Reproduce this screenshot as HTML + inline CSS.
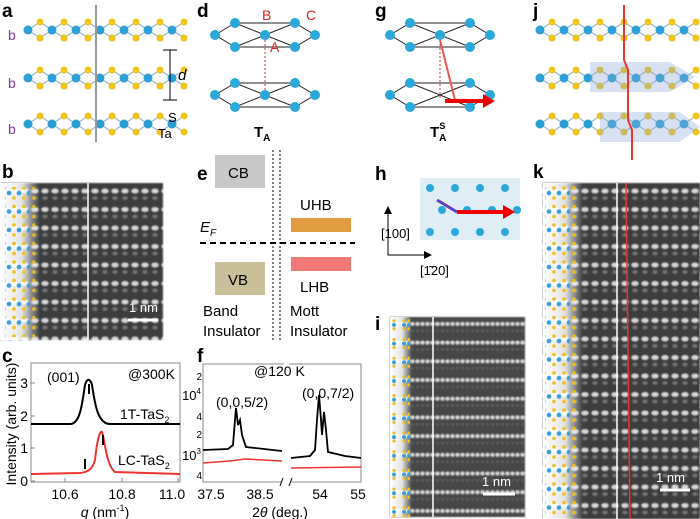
<!DOCTYPE html><html><head><style>body{margin:0;background:#fff}svg{display:block;font-family:"Liberation Sans",sans-serif}</style></head><body>
<svg width="700" height="519" viewBox="0 0 700 519" xmlns="http://www.w3.org/2000/svg">
<defs>
<filter id="bl"><feGaussianBlur stdDeviation="0.9"/></filter>
<pattern id="dots" width="10" height="18.5" patternUnits="userSpaceOnUse"><rect width="10" height="18.5" fill="#3c3c3c"/><ellipse cx="5" cy="6" rx="3.5" ry="2.3" fill="#d8d8d8"/><ellipse cx="5" cy="13" rx="2.5" ry="1.8" fill="#777"/></pattern>
<pattern id="dots2" width="5" height="18.7" patternUnits="userSpaceOnUse"><rect width="5" height="18.7" fill="#464646"/><ellipse cx="2.5" cy="6" rx="2" ry="1.8" fill="#ddd"/><circle cx="2.5" cy="13" r="1.2" fill="#666"/></pattern>
<linearGradient id="fade" x1="0" x2="1"><stop offset="0" stop-color="#fff"/><stop offset="0.55" stop-color="#fff" stop-opacity="0.85"/><stop offset="1" stop-color="#fff" stop-opacity="0"/></linearGradient>
<pattern id="atoms" width="30" height="18.5" patternUnits="userSpaceOnUse"><g fill="#e8c020"><circle cx="4" cy="3" r="1.8"/><circle cx="14" cy="3" r="1.8"/><circle cx="24" cy="3" r="1.8"/><circle cx="4" cy="13" r="1.8"/><circle cx="14" cy="13" r="1.8"/><circle cx="24" cy="13" r="1.8"/></g><g fill="#3a9fd8"><circle cx="9" cy="8" r="2.3"/><circle cx="19" cy="8" r="2.3"/><circle cx="29" cy="8" r="2.3"/></g></pattern>
<pattern id="atoms2" width="20" height="18.7" patternUnits="userSpaceOnUse"><g fill="#e8c020"><circle cx="4" cy="3" r="1.6"/><circle cx="9" cy="3" r="1.6"/><circle cx="14" cy="3" r="1.6"/><circle cx="4" cy="11" r="1.6"/><circle cx="9" cy="11" r="1.6"/><circle cx="14" cy="11" r="1.6"/></g><g fill="#3a9fd8"><circle cx="4" cy="7" r="2"/><circle cx="9" cy="7" r="2"/><circle cx="14" cy="7" r="2"/></g></pattern>
<g id="chain"><path d="M0 0 l12 -8 l12 8 l12 -8 l12 8 l12 -8 l12 8 l12 -8 l12 8 l12 -8 l12 8 l12 -8 l12 8 l12 -8" stroke="#8ab" fill="none"/><path d="M0 0 l12 8 l12 -8 l12 8 l12 -8 l12 8 l12 -8 l12 8 l12 -8 l12 8 l12 -8 l12 8 l12 -8 l12 8" stroke="#8ab" fill="none"/>
<g fill="#2a9fd6"><circle cx="0" cy="0" r="4.5"/><circle cx="24" cy="0" r="4.5"/><circle cx="48" cy="0" r="4.5"/><circle cx="72" cy="0" r="4.5"/><circle cx="96" cy="0" r="4.5"/><circle cx="120" cy="0" r="4.5"/><circle cx="144" cy="0" r="4.5"/></g>
<g fill="#f0c419"><circle cx="12" cy="-8" r="3.5"/><circle cx="36" cy="-8" r="3.5"/><circle cx="60" cy="-8" r="3.5"/><circle cx="84" cy="-8" r="3.5"/><circle cx="108" cy="-8" r="3.5"/><circle cx="132" cy="-8" r="3.5"/><circle cx="156" cy="-8" r="3.5"/><circle cx="12" cy="8" r="3.5"/><circle cx="36" cy="8" r="3.5"/><circle cx="60" cy="8" r="3.5"/><circle cx="84" cy="8" r="3.5"/><circle cx="108" cy="8" r="3.5"/><circle cx="132" cy="8" r="3.5"/><circle cx="156" cy="8" r="3.5"/></g></g>
</defs>
<g font-weight="bold" font-size="19" fill="#000"><text x="2" y="17">a</text><text x="2" y="178">b</text><text x="2" y="362">c</text><text x="197" y="17">d</text><text x="197" y="180">e</text><text x="197" y="362">f</text><text x="375" y="17">g</text><text x="375" y="180">h</text><text x="375" y="330">i</text><text x="533" y="17">j</text><text x="533" y="178">k</text></g>
<!-- a -->
<use href="#chain" x="28" y="30"/><use href="#chain" x="28" y="78"/><use href="#chain" x="28" y="124"/>
<line x1="96" y1="5" x2="96" y2="142" stroke="#999" stroke-width="2"/>
<g fill="#7a3fa0" font-size="14"><text x="8" y="40">b</text><text x="8" y="88">b</text><text x="8" y="134">b</text></g>
<path d="M163 50 h14 M163 100 h14 M170 50 v50" stroke="#000"/><text x="178" y="80" font-style="italic" font-size="15">d</text>
<text x="168" y="122" font-size="13">S</text><text x="158" y="138" font-size="13">Ta</text>
<!-- b -->
<rect x="0" y="183" width="163" height="157" fill="url(#dots)" filter="url(#bl)"/><rect x="0" y="183" width="40" height="157" fill="url(#fade)"/><rect x="5" y="187" width="30" height="150" fill="url(#atoms)"/>
<line x1="88" y1="183" x2="88" y2="340" stroke="#fff" stroke-width="1.5"/>
<line x1="128" y1="320" x2="158" y2="320" stroke="#fff" stroke-width="3"/><text x="129" y="312" fill="#fff" font-size="13">1 nm</text>
<!-- d -->
<g stroke="#222" fill="none"><path d="M215 35 l20 -12 h60 l20 12 l-20 12 h-60z M235 23 l30 12 l30 -12 M235 47 l30 -12 l30 12"/><path d="M215 95 l20 -12 h60 l20 12 l-20 12 h-60z M235 83 l30 12 l30 -12 M235 107 l30 -12 l30 12"/></g>
<g fill="#2aa8d8"><circle cx="215" cy="35" r="5"/><circle cx="235" cy="23" r="5"/><circle cx="295" cy="23" r="5"/><circle cx="315" cy="35" r="5"/><circle cx="235" cy="47" r="5"/><circle cx="295" cy="47" r="5"/><circle cx="265" cy="35" r="5"/><circle cx="215" cy="95" r="5"/><circle cx="235" cy="83" r="5"/><circle cx="295" cy="83" r="5"/><circle cx="315" cy="95" r="5"/><circle cx="235" cy="107" r="5"/><circle cx="295" cy="107" r="5"/><circle cx="265" cy="95" r="5"/></g>
<line x1="265" y1="40" x2="265" y2="90" stroke="#d33" stroke-dasharray="2,2"/>
<g fill="#d22" font-size="14"><text x="262" y="20">B</text><text x="306" y="20">C</text><text x="270" y="52">A</text></g>
<text x="254" y="137" font-weight="bold" font-size="15">T<tspan font-size="10" dy="4">A</tspan></text>
<!-- e -->
<rect x="215" y="155" width="50" height="33" fill="#c8c8c8"/><text x="228" y="178" font-size="15">CB</text>
<rect x="215" y="262" width="50" height="33" fill="#c9c09a"/><text x="228" y="285" font-size="15">VB</text>
<line x1="273" y1="150" x2="273" y2="340" stroke="#000" stroke-dasharray="2,2"/><line x1="280" y1="150" x2="280" y2="340" stroke="#000" stroke-dasharray="2,2"/>
<line x1="200" y1="243" x2="355" y2="243" stroke="#000" stroke-width="2" stroke-dasharray="6,4"/>
<text x="200" y="232" font-style="italic" font-size="15">E<tspan font-size="10" dy="4">F</tspan></text>
<rect x="291" y="218" width="60" height="14" fill="#e09a40"/><text x="300" y="210" font-size="15">UHB</text>
<rect x="291" y="257" width="60" height="14" fill="#f07a7a"/><text x="300" y="292" font-size="15">LHB</text>
<text x="203" y="316" font-size="15">Band</text><text x="203" y="336" font-size="15">Insulator</text><text x="290" y="316" font-size="15">Mott</text><text x="290" y="336" font-size="15">Insulator</text>
<!-- g -->
<g transform="translate(175,0)"><g stroke="#222" fill="none"><path d="M215 35 l20 -12 h60 l20 12 l-20 12 h-60z M235 23 l30 12 l30 -12 M235 47 l30 -12 l30 12"/><path d="M215 95 l20 -12 h60 l20 12 l-20 12 h-60z M235 83 l30 12 l30 -12 M235 107 l30 -12 l30 12"/></g>
<g fill="#2aa8d8"><circle cx="215" cy="35" r="5"/><circle cx="235" cy="23" r="5"/><circle cx="295" cy="23" r="5"/><circle cx="315" cy="35" r="5"/><circle cx="235" cy="47" r="5"/><circle cx="295" cy="47" r="5"/><circle cx="265" cy="35" r="5"/><circle cx="215" cy="95" r="5"/><circle cx="235" cy="83" r="5"/><circle cx="295" cy="83" r="5"/><circle cx="315" cy="95" r="5"/><circle cx="235" cy="107" r="5"/><circle cx="295" cy="107" r="5"/></g>
<line x1="265" y1="40" x2="265" y2="100" stroke="#d33" stroke-dasharray="2,2"/><line x1="265" y1="40" x2="280" y2="100" stroke="#e55" stroke-width="2"/><path d="M270 101 h40" stroke="#e00" stroke-width="4"/><path d="M308 94 l12 7 l-12 7z" fill="#e00"/>
<text x="255" y="137" font-weight="bold" font-size="15">T<tspan font-size="10" dy="4">A</tspan><tspan font-size="9" dx="-7" dy="-12">S</tspan></text></g>
<!-- h -->
<rect x="420" y="178" width="100" height="62" fill="#dfeef5"/>
<g fill="#2aa8d8"><circle cx="430" cy="188" r="4"/><circle cx="455" cy="188" r="4"/><circle cx="480" cy="188" r="4"/><circle cx="505" cy="188" r="4"/><circle cx="442" cy="210" r="4"/><circle cx="467" cy="210" r="4"/><circle cx="492" cy="210" r="4"/><circle cx="517" cy="210" r="4"/><circle cx="430" cy="232" r="4"/><circle cx="455" cy="232" r="4"/><circle cx="480" cy="232" r="4"/><circle cx="505" cy="232" r="4"/></g>
<path d="M437 200 l20 12" stroke="#6040c0" stroke-width="3"/><path d="M457 212 h48" stroke="#e00" stroke-width="4"/><path d="M503 205 l12 7 l-12 7z" fill="#e00"/>
<path d="M388 210 v45 h40" stroke="#000" fill="none"/><path d="M384 214 l4 -8 l4 8z M424 251 l8 4 l-8 4z"/>
<text x="381" y="238" font-size="13">[100]</text><text x="420" y="275" font-size="13">[1̄20]</text>
<!-- i -->
<rect x="390" y="317" width="135" height="200" fill="url(#dots2)" filter="url(#bl)"/><rect x="390" y="317" width="22" height="200" fill="url(#fade)"/><rect x="392" y="317" width="18" height="200" fill="url(#atoms2)"/>
<line x1="433" y1="317" x2="433" y2="517" stroke="#fff" stroke-width="1.5"/>
<line x1="483" y1="494" x2="515" y2="494" stroke="#fff" stroke-width="3"/><text x="482" y="486" fill="#fff" font-size="13">1 nm</text>
<!-- j -->
<use href="#chain" x="540" y="30"/><use href="#chain" x="540" y="78"/><use href="#chain" x="540" y="124"/>
<path d="M590 62 h80 l25 15 l-25 15 h-80z M600 112 h80 l20 15 l-20 15 h-80z" fill="#8fa8d8" opacity="0.35"/>
<path d="M624 5 v55 l4 10 v50 l4 10 v30" stroke="#e33" stroke-width="2" fill="none"/>
<!-- k -->
<rect x="543" y="183" width="157" height="336" fill="url(#dots)" filter="url(#bl)"/><rect x="543" y="183" width="40" height="336" fill="url(#fade)"/><rect x="545" y="186" width="32" height="333" fill="url(#atoms)"/>
<line x1="617" y1="183" x2="617" y2="519" stroke="#fff" stroke-width="1.5"/><line x1="626" y1="183" x2="630" y2="519" stroke="#e33" stroke-width="1.5"/>
<line x1="660" y1="490" x2="690" y2="490" stroke="#fff" stroke-width="3"/><text x="656" y="482" fill="#fff" font-size="13">1 nm</text>
<!-- c plot -->
<rect x="31" y="363" width="149" height="119" fill="none" stroke="#888"/>
<g stroke="#888"><path d="M65 482v-4M122 482v-4M178 482v-4M31 481h4M31 448h4M31 416h4M31 383h4"/></g>
<g font-size="14" fill="#000" text-anchor="middle"><text x="65" y="499">10.6</text><text x="122" y="499">10.8</text><text x="172" y="499">11.0</text></g>
<g font-size="14" text-anchor="end"><text x="28" y="486">0</text><text x="28" y="453">1</text><text x="28" y="421">2</text><text x="28" y="388">3</text></g>
<text x="105" y="517" font-size="14" text-anchor="middle"><tspan font-style="italic">q</tspan> (nm<tspan font-size="9" dy="-6">-1</tspan><tspan dy="6">)</tspan></text>
<text transform="translate(16,424) rotate(-90)" font-size="14" text-anchor="middle">Intensity (arb. units)</text>
<path d="M31 424 L70 424 C80 424 82 405 85 385 C87 378 90 378 92 385 C95 405 98 424 110 424 L180 424" stroke="#000" stroke-width="2" fill="none"/>
<path d="M31 474 L80 473 C88 472 92 470 95 460 C97 440 100 430 102 432 C105 440 106 465 115 472 L180 474" stroke="#e33" stroke-width="2" fill="none"/>
<path d="M89 384v10M103 435v10M85 459v10" stroke="#000" stroke-width="2"/>
<text x="47" y="382" font-size="14">(001)</text><text x="128" y="379" font-size="14">@300K</text>
<text x="120" y="419" font-size="14">1T-TaS<tspan font-size="9" dy="4">2</tspan></text><text x="118" y="465" font-size="14">LC-TaS<tspan font-size="9" dy="4">2</tspan></text>
<!-- f plot -->
<path d="M284 364 H203 V482 H282 M291 482 H361 V364 H289" stroke="#888" fill="none"/>
<path d="M280 486 l3 -8 M289 486 l3 -8" stroke="#000"/>
<g font-size="14" text-anchor="middle"><text x="211" y="499">37.5</text><text x="260" y="499">38.5</text><text x="320" y="499">54</text><text x="358" y="499">55</text></g>
<text x="280" y="517" font-size="14" text-anchor="middle">2<tspan font-style="italic">θ</tspan> (deg.)</text>
<g font-size="10" text-anchor="end"><text x="202" y="380">2</text><text x="202" y="420">4</text><text x="202" y="438">2</text><text x="202" y="479">4</text></g>
<text x="201" y="400" font-size="13" text-anchor="end">10<tspan font-size="8" dy="-6">4</tspan></text><text x="201" y="460" font-size="13" text-anchor="end">10<tspan font-size="8" dy="-6">3</tspan></text>
<path d="M203 450 L228 449 L233 445 L235 420 L236 408 L238 425 L240 420 L242 435 L246 447 L282 451" stroke="#000" stroke-width="1.8" fill="none"/>
<path d="M291 458 L310 456 L315 450 L317 420 L319 395 L321 420 L322 435 L324 412 L326 430 L328 452 L345 456 L361 458" stroke="#000" stroke-width="1.8" fill="none"/>
<path d="M203 463 L230 461 L245 459 L282 461" stroke="#e33" stroke-width="1.5" fill="none"/><path d="M291 468 L361 467" stroke="#e33" stroke-width="1.5" fill="none"/>
<text x="254" y="376" font-size="14">@120 K</text><text x="216" y="407" font-size="14">(0,0,5/2)</text><text x="302" y="398" font-size="14">(0,0,7/2)</text>
</svg></body></html>
